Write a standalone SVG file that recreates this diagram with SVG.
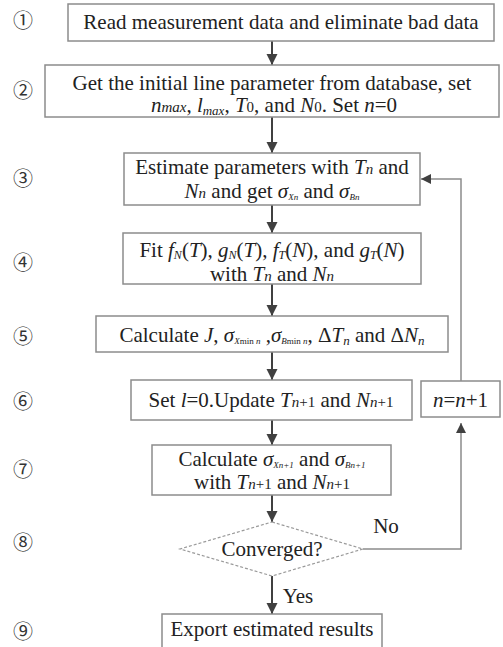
<svg xmlns="http://www.w3.org/2000/svg" width="503" height="647" viewBox="0 0 503 647">
<defs>
<style>
.box{fill:#fff;stroke:#8c8c8c;stroke-width:1.5}
.dia{fill:#fff;stroke:#9a9a9a;stroke-width:1.2;stroke-dasharray:3 2}
.t{font-family:"Liberation Serif","Times New Roman",serif;font-size:21px;fill:#222;text-anchor:middle}
.num{font-family:"Noto Sans CJK JP","DejaVu Sans",sans-serif;font-size:20px;fill:#333;text-anchor:middle}
.i{font-style:italic}
.s{font-size:15px}
.xs{font-size:9px;font-style:italic}
.arr{stroke:#404040;stroke-width:2;fill:none}
.fb{stroke:#8c8c8c;stroke-width:1.5;fill:none}
</style>
<marker id="ah" markerUnits="userSpaceOnUse" markerWidth="12" markerHeight="12" refX="11" refY="5.5" orient="auto">
<path d="M0,0 L11,5.5 L0,11 z" fill="#404040"/>
</marker>
<marker id="ah2" markerUnits="userSpaceOnUse" markerWidth="12" markerHeight="12" refX="10" refY="5" orient="auto">
<path d="M0,0 L10,5 L0,10 z" fill="#404040"/>
</marker>
</defs>

<g id="labels">
<text class="num" x="23" y="28">①</text>
<text class="num" x="23" y="98">②</text>
<text class="num" x="23" y="186">③</text>
<text class="num" x="23" y="270">④</text>
<text class="num" x="23" y="344">⑤</text>
<text class="num" x="23" y="409">⑥</text>
<text class="num" x="23" y="477">⑦</text>
<text class="num" x="23" y="550">⑧</text>
<text class="num" x="23" y="639">⑨</text>
</g>

<g id="connectors">
<line class="arr" x1="272" y1="41" x2="272" y2="65" marker-end="url(#ah)"/>
<line class="arr" x1="272" y1="117" x2="272" y2="153" marker-end="url(#ah)"/>
<line class="arr" x1="272" y1="205" x2="272" y2="233" marker-end="url(#ah)"/>
<line class="arr" x1="272" y1="284" x2="272" y2="316" marker-end="url(#ah)"/>
<line class="arr" x1="272" y1="352" x2="272" y2="380" marker-end="url(#ah)"/>
<line class="arr" x1="272" y1="420" x2="272" y2="445" marker-end="url(#ah)"/>
<line class="arr" x1="272" y1="495" x2="272" y2="522" marker-end="url(#ah)"/>
<line class="arr" x1="272" y1="576" x2="272" y2="614" marker-end="url(#ah)"/>
<path class="fb" d="M363,549 H461 V423" marker-end="url(#ah2)"/>
<path class="fb" d="M461,381 V179 H421" marker-end="url(#ah2)"/>
<text class="t" x="386" y="533">No</text>
<text class="t" x="298" y="603">Yes</text>
</g>

<g id="n1">
<rect class="box" x="68" y="4" width="426" height="37"/>
<text class="t" x="281" y="29">Read measurement data and eliminate bad data</text>
</g>

<g id="n2">
<rect class="box" x="45" y="65" width="454" height="52"/>
<text class="t" x="272" y="90">Get the initial line parameter from database, set</text>
<text class="t" x="274" y="112"><tspan class="i">n</tspan><tspan class="i s">max</tspan>, <tspan class="i">l</tspan><tspan class="i" font-size="13" dy="3">max</tspan><tspan dy="-3">,  </tspan><tspan class="i">T</tspan><tspan class="s">0</tspan>, and <tspan class="i">N</tspan><tspan class="s">0</tspan>. Set <tspan class="i">n</tspan>=0</text>
</g>

<g id="n3">
<rect class="box" x="124" y="153" width="296" height="52"/>
<text class="t" x="272" y="174">Estimate parameters with <tspan class="i">T</tspan><tspan class="i s">n</tspan> and</text>
<text class="t" x="272" y="198"><tspan class="i">N</tspan><tspan class="i s">n</tspan> and get <tspan class="i">σ</tspan><tspan class="xs" dy="2">Xn</tspan><tspan dy="-2"> and </tspan><tspan class="i">σ</tspan><tspan class="xs" dy="2">Bn</tspan></text>
</g>

<g id="n4">
<rect class="box" x="123" y="233" width="298" height="51"/>
<text class="t" x="272" y="257">Fit <tspan class="i">f</tspan><tspan class="i" font-size="12" dy="2">N</tspan><tspan dy="-2">(</tspan><tspan class="i">T</tspan>), <tspan class="i">g</tspan><tspan class="i" font-size="12" dy="2">N</tspan><tspan dy="-2">(</tspan><tspan class="i">T</tspan>), <tspan class="i">f</tspan><tspan class="i" font-size="12" dy="2">T</tspan><tspan dy="-2">(</tspan><tspan class="i">N</tspan>), and <tspan class="i">g</tspan><tspan class="i" font-size="12" dy="2">T</tspan><tspan dy="-2">(</tspan><tspan class="i">N</tspan>)</text>
<text class="t" x="272" y="281">with <tspan class="i">T</tspan><tspan class="i s">n</tspan> and <tspan class="i">N</tspan><tspan class="i s">n</tspan></text>
</g>

<g id="n5">
<rect class="box" x="96" y="316" width="352" height="36"/>
<text class="t" x="272" y="342">Calculate <tspan class="i">J</tspan>, <tspan class="i">σ</tspan><tspan class="xs" dy="2">X</tspan><tspan font-size="9">min </tspan><tspan class="xs">n</tspan><tspan dy="-2"> ,</tspan><tspan class="i">σ</tspan><tspan class="xs" dy="2">B</tspan><tspan font-size="9">min </tspan><tspan class="xs">n</tspan><tspan dy="-2">,  Δ</tspan><tspan class="i">T</tspan><tspan class="i" font-size="13" dy="3">n</tspan><tspan dy="-3"> and Δ</tspan><tspan class="i">N</tspan><tspan class="i" font-size="13" dy="3">n</tspan></text>
</g>

<g id="n6">
<rect class="box" x="131" y="380" width="281" height="40"/>
<text class="t" x="271" y="407">Set <tspan class="i">l</tspan>=0.Update <tspan class="i">T</tspan><tspan class="i s">n</tspan><tspan class="s">+1</tspan> and <tspan class="i">N</tspan><tspan class="i s">n</tspan><tspan class="s">+1</tspan></text>
</g>

<g id="n_inc">
<rect class="box" x="421" y="381" width="79" height="36"/>
<text class="t" x="460.5" y="407"><tspan class="i">n</tspan>=<tspan class="i">n</tspan>+1</text>
</g>

<g id="n7">
<rect class="box" x="152" y="445" width="239" height="50"/>
<text class="t" x="272" y="466">Calculate <tspan class="i">σ</tspan><tspan class="xs" dy="2">Xn+1</tspan><tspan dy="-2"> and </tspan><tspan class="i">σ</tspan><tspan class="xs" dy="2">Bn+1</tspan></text>
<text class="t" x="272" y="489">with <tspan class="i">T</tspan><tspan class="i s">n</tspan><tspan class="s">+1</tspan> and <tspan class="i">N</tspan><tspan class="i s">n</tspan><tspan class="s">+1</tspan></text>
</g>

<g id="n8">
<polygon class="dia" points="272,522 363,549 272,576 180,549"/>
<text class="t" x="272" y="556">Converged?</text>
</g>

<g id="n9">
<rect class="box" x="162" y="614" width="220" height="45"/>
<text class="t" x="272" y="636">Export estimated results</text>
</g>
</svg>
